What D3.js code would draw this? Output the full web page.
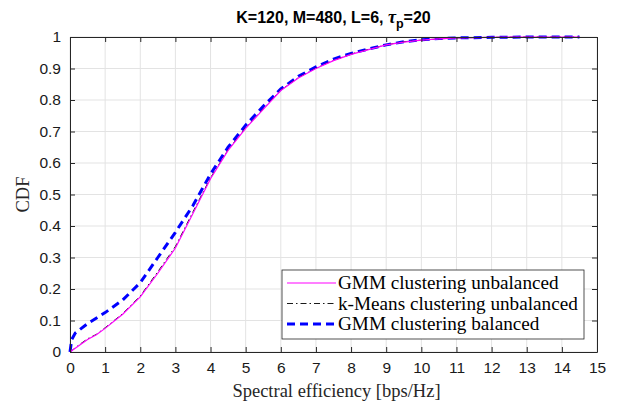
<!DOCTYPE html>
<html>
<head>
<meta charset="utf-8">
<script src="https://cdn.jsdelivr.net/npm/d3@7"></script>
<style>
  body { margin: 0; background: #fff; }
  svg { display: block; }
</style>
</head>
<body>
<div id="chart"></div>
<script>
// spectral efficiency grid and CDF values
var seGmmUnb = [0, 0.25, 0.5, 0.75, 1, 1.5, 2, 2.5, 3, 3.5, 4, 4.5, 5, 5.5, 6, 6.5, 7, 7.5, 8, 8.5, 9, 9.5, 10, 10.5, 11, 12, 13, 14.5];
var cdfGmmUnb = [0, 0.02, 0.04, 0.055, 0.075, 0.12, 0.175, 0.25, 0.33, 0.44, 0.55, 0.64, 0.71, 0.77, 0.83, 0.87, 0.9, 0.925, 0.945, 0.96, 0.975, 0.984, 0.99, 0.994, 0.997, 0.999, 1, 1];

var seKmUnb = [0, 0.25, 0.5, 0.75, 1, 1.5, 2, 2.5, 3, 3.5, 4, 4.5, 5, 5.5, 6, 6.5, 7, 7.5, 8, 8.5, 9, 9.5, 10, 10.5, 11, 12, 13, 14.5];
var cdfKmUnb = [0, 0.022, 0.042, 0.056, 0.077, 0.122, 0.178, 0.255, 0.335, 0.445, 0.553, 0.642, 0.712, 0.772, 0.832, 0.871, 0.901, 0.926, 0.946, 0.961, 0.975, 0.985, 0.99, 0.994, 0.997, 0.999, 1, 1];

var seGmmBal = [0, 0.05, 0.15, 0.5, 1, 1.5, 2, 2.5, 3, 3.5, 4, 4.5, 5, 5.5, 6, 6.5, 7, 7.5, 8, 8.5, 9, 9.5, 10, 10.5, 11, 12, 13, 14.5];
var cdfGmmBal = [0, 0.04, 0.06, 0.09, 0.125, 0.165, 0.22, 0.3, 0.38, 0.465, 0.565, 0.65, 0.72, 0.78, 0.835, 0.875, 0.905, 0.93, 0.948, 0.962, 0.975, 0.985, 0.991, 0.995, 0.997, 0.999, 1, 1];

var xTicks = d3.range(0, 16, 1);
var yTicks = d3.range(0, 1.01, 0.1);
var legendNames = ["GMM clustering unbalanced", "k-Means clustering unbalanced", "GMM clustering balanced"];

var W = 621, H = 404;
var m = {left: 70, right: 24, top: 37, bottom: 52};

var svg = d3.select("#chart").append("svg").attr("width", W).attr("height", H);
svg.append("rect").attr("width", W).attr("height", H).attr("fill", "#fff");

var x = d3.scaleLinear().domain([0, 15]).range([m.left, W - m.right]);
var y = d3.scaleLinear().domain([0, 1]).range([H - m.bottom, m.top]);

var g = svg.append("g");

// grid
g.selectAll(".gx").data(xTicks).enter().append("line")
  .attr("x1", function(d) { return x(d); }).attr("x2", function(d) { return x(d); })
  .attr("y1", y(0)).attr("y2", y(1))
  .attr("stroke", "#e3e3e3").attr("stroke-width", 1);
g.selectAll(".gy").data(yTicks).enter().append("line")
  .attr("y1", function(d) { return y(d); }).attr("y2", function(d) { return y(d); })
  .attr("x1", x(0)).attr("x2", x(15))
  .attr("stroke", "#e3e3e3").attr("stroke-width", 1);

// curves
function pts(xs, ys) { return xs.map(function(v, i) { return [v, ys[i]]; }); }
var line = d3.line().x(function(d) { return x(d[0]); }).y(function(d) { return y(d[1]); });

var series = [
  {name: legendNames[0], data: pts(seGmmUnb, cdfGmmUnb), color: "#ff00ff", w: 1.2, dash: null},
  {name: legendNames[1], data: pts(seKmUnb, cdfKmUnb), color: "#000", w: 0.9, dash: "6,3,1.5,3"},
  {name: legendNames[2], data: pts(seGmmBal, cdfGmmBal), color: "#0000ff", w: 3, dash: "8,5"}
];

// draw balanced first, then black, then magenta on top like the picture
[series[2], series[1], series[0]].forEach(function(s) {
  g.append("path").datum(s.data).attr("d", line)
    .attr("fill", "none").attr("stroke", s.color).attr("stroke-width", s.w)
    .attr("stroke-dasharray", s.dash);
});

// axes (MATLAB-like box with inward ticks)
var axCol = "#262626";
var xAx = d3.axisBottom(x).tickValues(xTicks).tickSizeInner(-5).tickSizeOuter(0).tickPadding(10);
var yAx = d3.axisLeft(y).tickValues(yTicks).tickSizeInner(-5).tickSizeOuter(0).tickPadding(9)
  .tickFormat(function(d) { return d === 0 ? "0" : d === 1 ? "1" : d3.format(".1f")(d); });
var xAxT = d3.axisTop(x).tickValues(xTicks).tickSizeInner(-5).tickSizeOuter(0).tickFormat("");
var yAxR = d3.axisRight(y).tickValues(yTicks).tickSizeInner(-5).tickSizeOuter(0).tickFormat("");

[[xAx, "translate(0," + y(0) + ")"], [yAx, "translate(" + x(0) + ",0)"],
 [xAxT, "translate(0," + y(1) + ")"], [yAxR, "translate(" + x(15) + ",0)"]].forEach(function(a) {
  var ag = svg.append("g").attr("transform", a[1]).call(a[0]);
  ag.select(".domain").attr("stroke", axCol).attr("stroke-width", 1);
  ag.selectAll(".tick line").attr("stroke", axCol);
  ag.selectAll("text").attr("fill", "#1a1a1a").style("font-family", "'Liberation Sans', Arial, sans-serif").style("font-size", "15.5px");
});

// labels
var serif = "'Liberation Serif', 'Times New Roman', serif";
svg.append("text").attr("x", (x(0) + x(15)) / 2 + 3).attr("y", 397).attr("text-anchor", "middle")
  .style("font-family", serif).style("font-size", "18.5px").attr("fill", "#262626")
  .text("Spectral efficiency [bps/Hz]");
svg.append("text").attr("transform", "translate(29," + (y(0) + y(1)) / 2 + ") rotate(-90)").attr("text-anchor", "middle")
  .style("font-family", serif).style("font-size", "18.5px").attr("fill", "#262626")
  .text("CDF");

var title = svg.append("text").attr("x", (x(0) + x(15)) / 2).attr("y", 23).attr("text-anchor", "middle")
  .style("font-family", "'Liberation Sans', Arial, sans-serif").style("font-size", "16px").style("font-weight", "bold").attr("fill", "#000");
title.append("tspan").text("K=120, M=480, L=6, ");
title.append("tspan").style("font-family", "'Liberation Serif', serif").style("font-style", "italic").style("font-size", "18px").text("τ");
title.append("tspan").attr("dy", 5).style("font-size", "12.5px").text("p");
title.append("tspan").attr("dy", -5).text("=20");

// legend
var lg = svg.append("g").attr("transform", "translate(282,270)");
lg.append("rect").attr("width", 302).attr("height", 69).attr("fill", "#fff").attr("stroke", "#262626").attr("stroke-width", 0.8);
series.forEach(function(s, i) {
  var yy = 13 + i * 20.5;
  lg.append("line").attr("x1", 5).attr("x2", 54).attr("y1", yy).attr("y2", yy)
    .attr("stroke", s.color).attr("stroke-width", s.w).attr("stroke-dasharray", s.dash);
  lg.append("text").attr("x", 56).attr("y", yy + 6)
    .style("font-family", serif).style("font-size", "19.2px").attr("fill", "#000")
    .text(s.name);
});
</script>
</body>
</html>
